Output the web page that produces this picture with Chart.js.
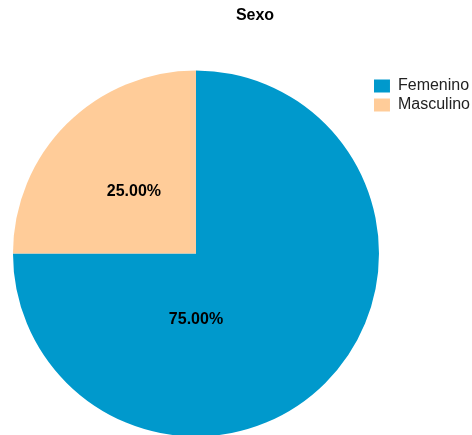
<!DOCTYPE html>
<html>
<head>
<meta charset="utf-8">
<script src="https://cdn.jsdelivr.net/npm/chart.js@4.4.1/dist/chart.umd.min.js"></script>
<style>
  html, body { margin: 0; padding: 0; background: #fff; overflow: hidden; }
</style>
</head>
<body>
<canvas id="sexo-pie" width="472" height="435"></canvas>
<script>
// Data
var chartTitle = 'Sexo';
var categories = ['Femenino', 'Masculino'];
var percentages = [75, 25];

// Colors
var femeninoColor = '#0099cc';
var masculinoColor = '#ffcc99';
var fontFamily = '"Liberation Sans", Arial, sans-serif';

// Title drawn over the canvas (centered above pie + legend block)
var titlePlugin = {
  id: 'sexoTitle',
  afterDraw: function(chart) {
    var ctx = chart.ctx;
    ctx.save();
    ctx.font = 'bold 16px ' + fontFamily;
    ctx.fillStyle = '#000';
    ctx.textAlign = 'center';
    ctx.textBaseline = 'middle';
    ctx.fillText(chartTitle, 255, 16);
    ctx.restore();
  }
};

// Percentage labels inside slices
var sliceLabels = {
  id: 'sliceLabels',
  afterDatasetsDraw: function(chart) {
    var ctx = chart.ctx;
    var meta = chart.getDatasetMeta(0);
    var values = chart.data.datasets[0].data;
    var total = values.reduce(function(a, b) { return a + b; }, 0);
    ctx.save();
    ctx.font = 'bold 16px ' + fontFamily;
    ctx.fillStyle = '#000';
    ctx.textAlign = 'center';
    ctx.textBaseline = 'middle';
    meta.data.forEach(function(arc, i) {
      var p = arc.getProps(['x', 'y', 'startAngle', 'endAngle', 'outerRadius'], true);
      var sweep = p.endAngle - p.startAngle;
      var angle, dist;
      if (sweep <= Math.PI) {
        angle = p.startAngle + sweep / 2;
        dist = p.outerRadius * 0.48;
      } else {
        angle = p.startAngle + Math.PI;
        dist = p.outerRadius * 0.36;
      }
      var text = (values[i] / total * 100).toFixed(2) + '%';
      ctx.fillText(text, p.x + Math.cos(angle) * dist, p.y + Math.sin(angle) * dist);
    });
    ctx.restore();
  }
};

var sexoCanvas = document.getElementById('sexo-pie');

var sexoChart = new Chart(sexoCanvas, {
  type: 'pie',
  plugins: [titlePlugin, sliceLabels],
  data: {
    labels: categories,
    datasets: [
      {
        data: percentages,
        backgroundColor: [femeninoColor, masculinoColor],
        borderWidth: 0,
        radius: 183,
      }
    ]
  },
  options: {
    responsive: false,
    animation: false,
    devicePixelRatio: 1,
    layout: {
      padding: { top: 75, bottom: 3, left: 21, right: -8 }
    },
    plugins: {
      title: { display: false },
      tooltip: { enabled: false },
      legend: {
        position: 'right',
        align: 'start',
        labels: {
          boxWidth: 16,
          boxHeight: 13,
          padding: 3,
          color: '#222',
          font: { family: fontFamily, size: 16 }
        }
      }
    }
  }
});
</script>
</body>
</html>
